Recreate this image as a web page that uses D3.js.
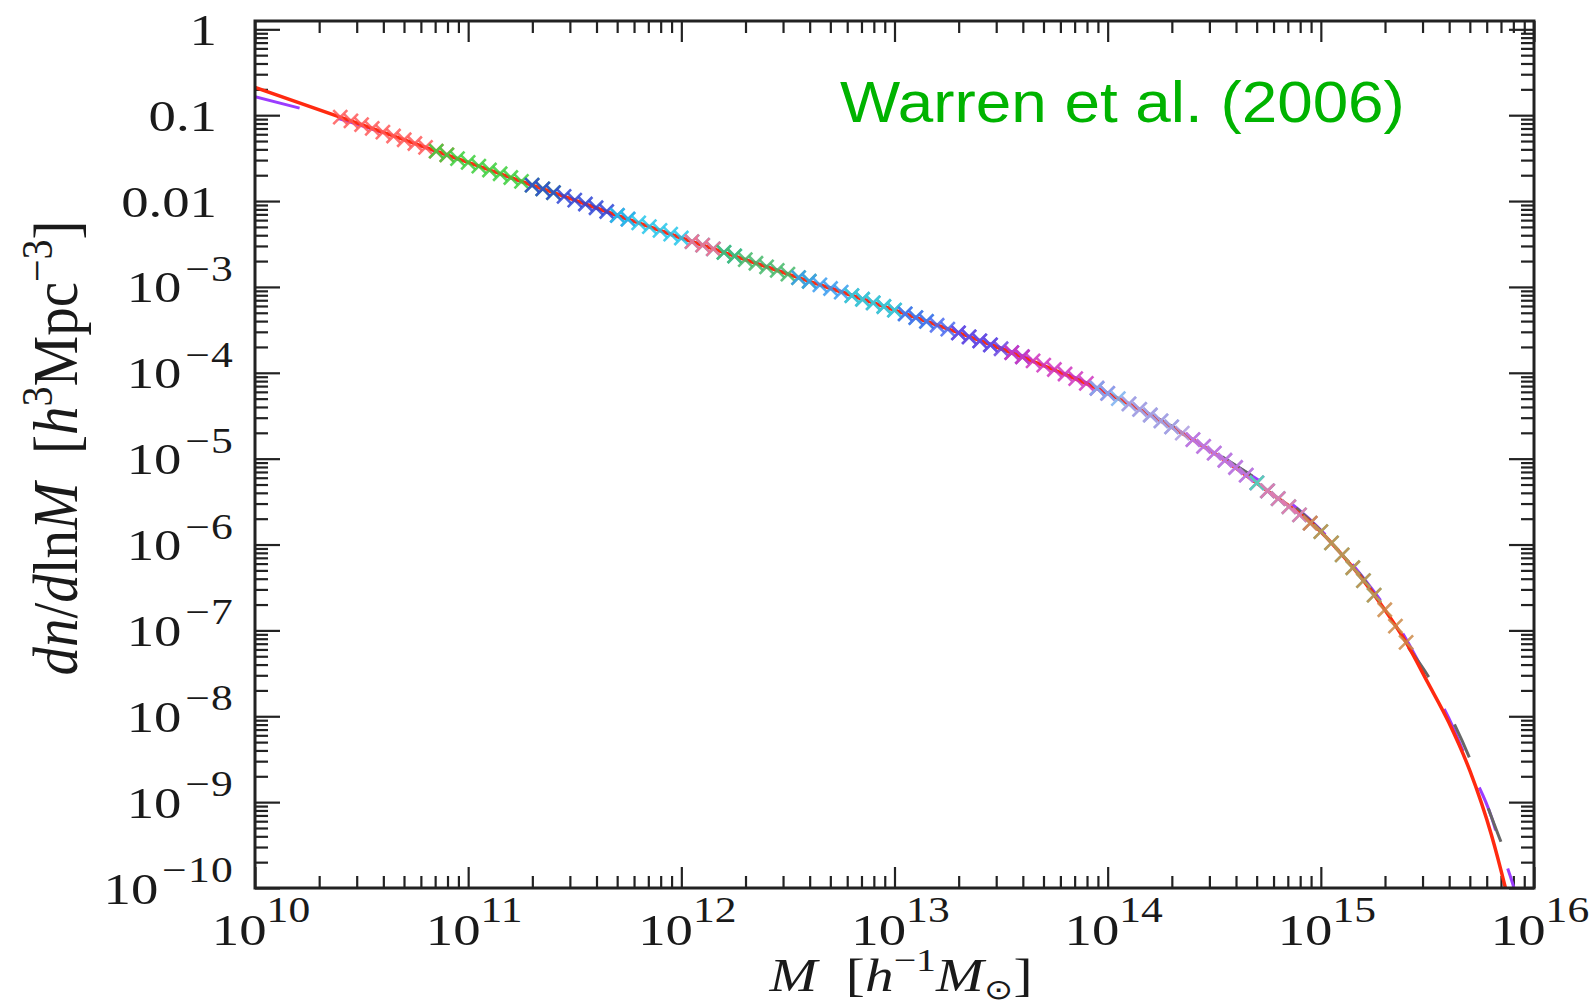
<!DOCTYPE html>
<html>
<head>
<meta charset="utf-8">
<script src="https://cdn.jsdelivr.net/npm/d3@7"></script>
<style>
  body { margin: 0; background: #fff; }
  svg { display: block; }
  .lbl { font-family: "Liberation Serif", "Times New Roman", serif; fill: #1a1a1a; }
</style>
</head>
<body>
<div id="chart"></div>
<script>
// ---- data (log10 values) ----
// mass bin centres, log10 M [h^-1 Msun]
const massBins = [
  10.40,10.45,10.50,10.55,10.60,10.65,10.70,10.75,10.80,10.85,
  10.90,10.95,11.00,11.05,11.10,11.15,11.20,11.25,11.30,11.35,
  11.40,11.45,11.50,11.55,11.60,11.65,11.70,11.75,11.80,11.85,
  11.90,11.95,12.00,12.05,12.10,12.15,12.20,12.25,12.30,12.35,
  12.40,12.45,12.50,12.55,12.60,12.65,12.70,12.75,12.80,12.85,
  12.90,12.95,13.00,13.05,13.10,13.15,13.20,13.25,13.30,13.35,
  13.40,13.45,13.50,13.55,13.60,13.65,13.70,13.75,13.80,13.85,
  13.90,13.95,14.00,14.05,14.10,14.15,14.20,14.25,14.30,14.35,
  14.40,14.45,14.50,14.55,14.60,14.65,14.70,14.75,14.80,14.85,
  14.90,14.95,15.00,15.05,15.10,15.15,15.20,15.25,15.30,15.35,
  15.40
];
// measured log10 dn/dlnM in each bin [h^3 Mpc^-3]
const dnBins = [
  -1.022,-1.066,-1.110,-1.154,-1.198,-1.242,-1.286,-1.330,-1.374,-1.418,
  -1.462,-1.506,-1.550,-1.594,-1.638,-1.682,-1.726,-1.770,-1.814,-1.858,
  -1.902,-1.946,-1.990,-2.034,-2.078,-2.122,-2.166,-2.210,-2.254,-2.298,
  -2.342,-2.386,-2.430,-2.472,-2.514,-2.556,-2.598,-2.640,-2.682,-2.724,
  -2.766,-2.808,-2.850,-2.892,-2.934,-2.976,-3.018,-3.060,-3.102,-3.144,
  -3.186,-3.228,-3.270,-3.314,-3.358,-3.402,-3.446,-3.491,-3.536,-3.582,
  -3.628,-3.674,-3.720,-3.766,-3.813,-3.861,-3.911,-3.962,-4.014,-4.068,
  -4.123,-4.180,-4.240,-4.300,-4.362,-4.426,-4.492,-4.560,-4.630,-4.703,
  -4.778,-4.856,-4.936,-5.018,-5.103,-5.191,-5.282,-5.375,-5.465,-5.560,
  -5.655,-5.750,-5.850,-5.980,-6.120,-6.270,-6.420,-6.590,-6.760,-6.950,
  -7.140
];
// which bins each simulation box covers (first / last bin index), in drawing order
const simFrom = [0, 9, 18, 26, 33, 36, 43, 48, 53, 58, 63, 71, 74, 80, 86, 87, 91];
const simTo   = [10, 20, 27, 37, 35, 44, 52, 55, 61, 64, 72, 78, 88, 87, 97, 91, 100];
const simColors = ["#ff5a5a","#3ccf3c","#2f45d6","#26c6ea","#ff6a8a","#45b86a","#3a9cf0",
                   "#3ccbd0","#4a6af0","#6a45e0","#cf35bf","#7ab0f0","#ab9ce0","#c070e0",
                   "#45dcb0","#f070b0","#cc8a48"];

// Warren et al. fit (red)
const fitLogM  = [10.0, 10.5, 11.0, 11.5, 12.0, 12.5, 13.0, 13.5, 14.0, 14.25, 14.5, 14.75,
                  15.0, 15.1, 15.2, 15.3, 15.4, 15.5, 15.6, 15.7, 15.8, 15.87, 15.9];
const fitLogDn = [-0.675, -1.110, -1.550, -1.990, -2.430, -2.850, -3.270, -3.720, -4.240, -4.560, -4.936, -5.375,
                  -5.850, -6.120, -6.420, -6.760, -7.140, -7.600, -8.070, -8.640, -9.380, -10.04, -10.35];
// second fit (purple, long dashes)
const altLogM  = [10.0, 10.2, 10.4, 10.7, 11.0, 12.0, 13.0, 14.0, 14.5, 15.0, 15.2, 15.4,
                  15.5, 15.6, 15.7, 15.8, 15.85, 15.9, 15.95];
const altLogDn = [-0.786, -0.912, -1.045, -1.290, -1.555, -2.430, -3.270, -4.235, -4.925, -5.830, -6.390, -7.100,
                  -7.560, -8.020, -8.600, -9.170, -9.580, -9.950, -10.40];
// third fit (grey, dashed)
const greyLogM  = [13.0, 13.5, 14.0, 14.5, 15.0, 15.2, 15.4, 15.5, 15.6, 15.7, 15.8, 15.9, 15.95];
const greyLogDn = [-3.270, -3.720, -4.235, -4.920, -5.840, -6.400, -7.160, -7.520, -7.960, -8.500, -9.170, -9.830, -10.20];

const xTickExps = [10, 11, 12, 13, 14, 15, 16];
const yTickExps = [0, -1, -2, -3, -4, -5, -6, -7, -8, -9, -10];
const yTickPlain = {"0": "1", "-1": "0.1", "-2": "0.01"};

// ---- layout ----
const W = 1595, H = 1008;
const margin = {top: 21, right: 61, bottom: 120, left: 255};
const width = W - margin.left - margin.right,
      height = H - margin.top - margin.bottom;
const sx = 1.245; // the original figure was stretched horizontally

const svg = d3.select("#chart").append("svg")
    .attr("width", W)
    .attr("height", H);
svg.append("rect").attr("width", W).attr("height", H).attr("fill", "#fff");

const g = svg.append("g").attr("transform", `translate(${margin.left},${margin.top})`);

const x = d3.scaleLog().domain([1e10, 1e16]).range([0, width]);
const y = d3.scaleLog().domain([1e-10, 1.25]).range([height, 0]);

g.append("clipPath").attr("id", "plot-clip")
  .append("rect").attr("width", width).attr("height", height);

// ---- ticks ----
const minors = (lo, hi) => {
  const out = [];
  for (let e = lo; e < hi; e++) for (let k = 2; k <= 9; k++) out.push(k * Math.pow(10, e));
  return out;
};
const xMajor = xTickExps.map(e => Math.pow(10, e));
const xMinor = minors(10, 16);
const yMajor = yTickExps.map(e => Math.pow(10, e));
const yMinor = minors(-10, 0);

function drawAxis(axis, transform, vals, size) {
  const a = g.append("g").attr("transform", transform)
    .call(axis.tickValues(vals).tickSize(size).tickFormat(""));
  a.select(".domain").remove();
  a.selectAll(".tick line").attr("stroke", "#222").attr("stroke-width", 2.2);
}
drawAxis(d3.axisBottom(x), `translate(0,${height})`, xMajor, -21);
drawAxis(d3.axisBottom(x), `translate(0,${height})`, xMinor, -12);
drawAxis(d3.axisTop(x), `translate(0,0)`, xMajor, -21);
drawAxis(d3.axisTop(x), `translate(0,0)`, xMinor, -12);
drawAxis(d3.axisLeft(y), `translate(0,0)`, yMajor, -25);
drawAxis(d3.axisLeft(y), `translate(0,0)`, yMinor, -13);
drawAxis(d3.axisRight(y), `translate(${width},0)`, yMajor, -25);
drawAxis(d3.axisRight(y), `translate(${width},0)`, yMinor, -13);

// ---- curves ----
const line = d3.line()
    .x(d => x(Math.pow(10, d[0])))
    .y(d => y(Math.pow(10, d[1])))
    .curve(d3.curveMonotoneX);

const plot = g.append("g").attr("clip-path", "url(#plot-clip)");

plot.append("path")
    .attr("d", line(d3.zip(altLogM, altLogDn)))
    .attr("fill", "none").attr("stroke", "#9b3cff").attr("stroke-width", 3)
    .attr("stroke-dasharray", "46 40");
plot.append("path")
    .attr("d", line(d3.zip(greyLogM, greyLogDn)))
    .attr("fill", "none").attr("stroke", "#666").attr("stroke-width", 3)
    .attr("stroke-dasharray", "36 54");
plot.append("path")
    .attr("d", line(d3.zip(fitLogM, fitLogDn)))
    .attr("fill", "none").attr("stroke", "#ff2a10").attr("stroke-width", 3.5);

// simulation points as crosses
simFrom.forEach((from, s) => {
  const pts = d3.range(from, simTo[s] + 1).map(i => [massBins[i], dnBins[i]]);
  plot.append("g").selectAll("path")
    .data(pts)
    .enter()
    .append("path")
    .attr("transform", d => `translate(${x(Math.pow(10, d[0]))},${y(Math.pow(10, d[1]))})`)
    .attr("d", "M-7,-7L7,7M-7,7L7,-7")
    .attr("stroke", simColors[s])
    .attr("stroke-width", 2.6)
    .attr("stroke-opacity", 0.85)
    .attr("fill", "none");
});

// frame
g.append("rect").attr("width", width).attr("height", height)
  .attr("fill", "none").attr("stroke", "#222").attr("stroke-width", 3);

// ---- tick labels ----
xTickExps.forEach(e => {
  const t = g.append("g")
    .attr("transform", `translate(${x(Math.pow(10, e)) + 6},${height + 57}) scale(${sx},1)`)
    .append("text").attr("class", "lbl").attr("text-anchor", "middle").attr("font-size", 44);
  t.append("tspan").text("10");
  t.append("tspan").attr("dy", -23).attr("font-size", 35).text(e);
});

yTickExps.forEach(e => {
  const py = y(Math.pow(10, e)) + 15.5;
  const plain = yTickPlain[String(e)];
  const t = g.append("g")
    .attr("transform", `translate(${plain ? -38 : -21},${py}) scale(${sx},1)`)
    .append("text").attr("class", "lbl").attr("text-anchor", "end").attr("font-size", 44);
  if (plain) {
    t.text(plain);
  } else {
    t.append("tspan").text("10");
    t.append("tspan").attr("dx", 3).attr("dy", -21.5).attr("font-size", 35)
      .attr("letter-spacing", 1).text("\u2212" + Math.abs(e));
  }
});

// ---- axis titles ----
const yt = svg.append("g")
  .attr("transform", `translate(77,448) scale(1.12,1) rotate(-90)`)
  .append("text").attr("class", "lbl").attr("text-anchor", "middle").attr("font-size", 57);
yt.append("tspan").attr("font-style", "italic").text("dn");
yt.append("tspan").text("/");
yt.append("tspan").attr("font-style", "italic").text("d");
yt.append("tspan").text("ln");
yt.append("tspan").attr("font-style", "italic").text("M");
yt.append("tspan").text("\u2002[");
yt.append("tspan").attr("font-style", "italic").text("h");
yt.append("tspan").attr("dy", -22).attr("font-size", 40).text("3");
yt.append("tspan").attr("dy", 22).text("Mpc");
yt.append("tspan").attr("dy", -22).attr("font-size", 40).text("\u22123");
yt.append("tspan").attr("dy", 22).text("]");

const xt = svg.append("g")
  .attr("transform", `translate(901,991) scale(${sx},1)`)
  .append("text").attr("class", "lbl").attr("text-anchor", "middle").attr("font-size", 46);
xt.append("tspan").attr("font-style", "italic").text("M");
xt.append("tspan").text("\u2002[");
xt.append("tspan").attr("font-style", "italic").text("h");
xt.append("tspan").attr("dy", -20).attr("font-size", 32).text("\u22121");
xt.append("tspan").attr("dy", 20).attr("font-style", "italic").text("M");
xt.append("tspan").attr("dy", 8).attr("font-size", 28).text("\u2299");
xt.append("tspan").attr("dy", -8).text("]");

// ---- annotation ----
svg.append("g")
  .attr("transform", `translate(840,122) scale(1.1,1)`)
  .append("text")
  .attr("font-family", "'Liberation Sans', Arial, sans-serif")
  .attr("font-size", 58)
  .attr("fill", "#00b300")
  .text("Warren et al. (2006)");
</script>
</body>
</html>
